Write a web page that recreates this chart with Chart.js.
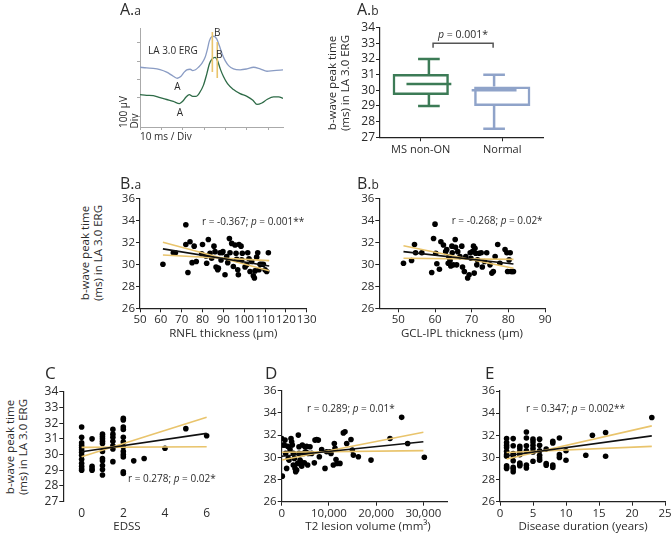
<!DOCTYPE html>
<html><head><meta charset="utf-8">
<script src="https://cdn.jsdelivr.net/npm/chart.js@4.4.1/dist/chart.umd.min.js"></script>
<style>
html,body{margin:0;padding:0;background:#fff;overflow:hidden}
#wrap{position:relative;width:672px;height:534px;overflow:hidden;font-family:"Open Sans",sans-serif;color:#2b2b2b}
#wrap canvas{position:absolute}
.t{position:absolute;white-space:nowrap;line-height:1}
</style></head><body><div id="wrap"></div>
<script>
// ================= DATA =================
// A.a  ERG traces (time in ms, amplitude in µV)
const ergNormalTime = [0,3.1,6.2,9.4,12.5,15.6,17.5,19.1,20.7,21.9,23.5,24.7,26.0,27.4,29.0,30.5,31.6,32.5,33.7,34.7,36.0,37.2,38.5,39.9,41.5,43.8,46.9,50.1,53.2,56.3,59.5,62.6,67.3];
const ergNormalAmp  = [266,262,260,253,239,217,206,215,239,252,255,248,252,266,287,320,365,410,433,435,419,383,338,302,275,257,252,257,266,257,244,248,252];
const ergMsTime = [0,3.1,6.2,9.4,12.5,15.6,18.5,20.0,21.6,23.1,24.7,26.3,27.8,29.7,31.3,32.5,33.8,35.2,36.3,37.6,39.1,41.0,43.8,46.9,50.1,52.9,54.8,57.1,59.5,62.6,64.9,67.3];
const ergMsAmp  = [117,113,111,100,90,80,68,80,104,117,107,107,125,167,230,284,311,320,302,257,215,176,144,122,107,86,63,71,90,104,104,95];
const ergPeakTime   = [33.9, 36.2];
const ergPeakTop    = [458, 403];
const ergPeakBottom = [240, 207];

// A.b  box plot
const boxGroups = ['MS non-ON', 'Normal'];
const boxMin    = [29.0, 27.55];
const boxQ1     = [29.7, 29.0];
const boxMedian = [30.4, 30.0];
const boxQ3     = [31.05, 30.25];
const boxMax    = [32.0, 31.0];
const boxTicks  = [27,28,29,30,31,32,33,34];
const sigLevel  = [32.72, 33.0];

// B.a  RNFL thickness vs b-wave peak time
const baRnfl = [61,72,66,67,72,74,76,73,75,77,80,79.6,81.7,82,82.8,83.6,84.4,85.5,86,86.5,87.3,87.6,88.4,88.9,89.5,89.8,90.8,91.6,92.1,92.9,93.2,94,94.8,95.6,96.1,96.4,96.9,97.2,97.5,98.5,98.8,99.1,100.4,101.2,101.7,102.3,102.8,103.6,104.4,104.9,105.2,106,106.5,107.1,107.6,108.4,109.2,110,110.8,111.6];
const baTime = [30.0,33.6,31.05,31.05,31.8,32.05,31.65,29.25,30.15,30.25,31.8,30.95,30.75,30.1,32.25,31.0,30.55,31.65,31.15,29.75,29.5,29.65,31.05,30.4,31.05,31.15,29.05,30.7,30.15,32.35,31.05,31.9,29.8,31.75,31.0,30.45,29.5,29.05,31.8,31.65,30.4,31.0,29.75,29.95,31.05,30.5,29.35,30.25,28.95,28.75,29.4,30.65,31.05,29.5,30.0,30.0,30.0,29.5,29.35,31.05];
const baLineX = [61, 112];
const baFit   = [31.4, 29.85];
const baCiA   = [32.0, 29.42];
const baCiB   = [30.85, 30.33];
const baXTicks = [50,60,70,80,90,100,110,120,130];

// B.b  GCL-IPL thickness
const bbGcl = [51.4,53.6,54.4,54.7,56.4,59.1,59.6,60.0,60.2,60.5,61.2,61.6,62.3,62.9,63.2,63.6,63.8,64.1,64.3,64.6,64.7,65.0,65.5,65.6,65.9,66.2,66.8,67.3,67.5,68.0,68.4,68.9,69.3,69.6,69.8,70.2,70.5,70.7,70.9,71.1,71.4,71.6,72.0,72.6,72.9,73.5,74.1,75.0,75.5,75.9,76.4,77.1,77.7,79.1,79.6,79.8,80.2,80.5,80.7,81.1,81.4];
const bbTime = [30.1,30.35,31.8,31.05,31.05,29.25,32.35,33.65,31.0,30.05,29.55,32.05,31.75,31.15,31.35,30.1,30.65,30.35,29.85,31.65,31.05,29.95,32.25,31.55,29.95,31.15,30.7,31.65,29.75,29.35,30.7,28.75,29.05,31.05,30.55,31.15,31.65,29.2,31.45,31.0,29.95,30.4,31.0,31.05,29.75,30.25,31.05,29.95,29.2,29.35,30.7,31.8,30.1,31.35,31.05,29.35,30.4,31.05,29.35,29.35,29.35];
const bbLineX = [51.4, 81.4];
const bbFit   = [31.15, 30.03];
const bbCiA   = [31.69, 29.64];
const bbCiB   = [30.55, 30.45];
const bbXTicks = [50,60,70,80,90];

// C  EDSS
const cEdss = [0,0,0,0,0,0,0,0,0,0,0,0,0, 0.5,0.5,0.5,0.5, 1,1,1,1,1,1,1,1,1,1,1, 1.5,1.5,1.5,1.5,1.5,1.5,1.5, 2,2,2,2,2,2,2,2,2,2,2,2, 2.5,3,4,5,6];
const cTime = [31.75,31.1,30.75,30.6,30.45,30.3,30.15,29.95,29.7,29.45,29.25,29.1,29.0, 31.0,29.25,29.1,29.0, 31.3,31.15,31.0,30.85,30.7,30.2,29.75,29.6,29.3,29.05,28.7, 31.6,31.3,31.1,30.85,30.55,30.35,29.55, 32.3,32.2,31.75,31.6,31.1,30.8,30.5,30.2,30.0,29.85,28.9,28.8, 29.6,29.75,30.4,31.65,31.2];
const cLineX = [0, 6];
const cFit   = [30.18, 31.35];
const cCiA   = [29.86, 32.37];
const cCiB   = [30.46, 30.5];
const cXTicks = [0,2,4,6];
const cYTicks = [27,28,29,30,31,32,33,34];

// D  T2 lesion volume
const dVol  = [0,130,350,560,700,840,1050,1260,1400,1550,1760,1970,2110,2250,2460,2460,2680,2820,2960,3170,3380,3520,3660,3660,3870,4090,4230,4370,4580,4790,4930,5070,5290,5500,5640,5990,6340,6910,7050,7400,7760,7970,8460,9170,9520,10230,10440,10930,11140,11290,11500,11710,12340,13050,13400,13760,14670,14960,15170,16230,18910,22930,25400,26670,30200];
const dTime = [31.7,28.3,31.1,31.1,31.55,30.35,29.0,31.0,29.9,29.75,30.7,31.7,31.4,31.1,30.35,29.3,29.9,29.0,28.7,28.85,29.45,32.0,30.95,30.35,29.75,29.6,29.2,31.1,30.35,29.5,30.95,30.5,31.0,29.3,30.35,30.95,30.35,29.5,31.55,31.6,31.55,30.05,30.7,29.0,30.5,30.5,30.35,29.3,31.25,30.8,29.8,29.45,29.45,32.2,32.3,31.25,31.6,30.65,30.2,30.05,29.75,31.7,33.6,31.25,30.0];
const dLineX = [0, 30000];
const dFit   = [30.1, 31.4];
const dCiA   = [29.75, 32.25];
const dCiB   = [30.45, 30.6];
const dXTicks = [0,10000,20000,30000];

// E  Disease duration
const eYears = [1,1,1,1,1,1,1,1,1,1, 2,2,2,2,2,2,2,2, 3,3,3,3,3,3,3, 4,4,4,4,4,4, 5,5,5,5,5,5, 6,6,6,6,6,6, 7,7,7, 8,8,8,8, 9,9,9, 10,10, 13,14,16,16,23];
const eTime  = [31.7,31.35,31.1,30.9,30.55,30.25,30.1,29.25,29.1,29.0, 31.7,31.05,30.35,30.15,29.7,29.1,28.95,28.7, 31.0,30.8,30.5,30.25,29.5,29.35,29.25, 32.3,31.75,31.05,30.6,29.3,29.05, 31.65,31.4,31.1,30.8,30.5,29.65, 31.65,31.1,30.6,30.2,29.95,29.75, 30.75,29.45,29.3, 31.45,31.3,29.3,29.1, 31.75,30.25,30.0, 30.6,29.75, 30.2,32.0,32.25,30.1,33.6];
const eLineX = [1, 23];
const eFit   = [30.15, 31.95];
const eCiA   = [29.85, 32.85];
const eCiB   = [30.45, 31.0];
const eXTicks = [0,5,10,15,20,25];

const timeTicks = [26,28,30,32,34,36];

// ================= DRAWING =================
const wrap = document.getElementById('wrap');
const AX = '#222';
const GOLD = '#e9c46c';
Chart.defaults.font.family = '"Open Sans", sans-serif';
Chart.defaults.color = '#2b2b2b';

function pts(xs, ys) { return xs.map((x, i) => ({x: x, y: ys[i]})); }

function linAxis(min, max, ticks, o) {
  o = o || {};
  return {
    type: 'linear', min: min, max: max,
    afterBuildTicks: s => { s.ticks = ticks.map(v => ({value: v})); },
    grid: {display: o.grid !== false, drawOnChartArea: false, drawTicks: true, tickLength: o.tl || 4, color: o.color || AX, lineWidth: 1},
    border: {display: o.border !== false, color: o.color || AX, width: o.bw || 1.2},
    ticks: {display: o.labels !== false, font: {size: o.size || 11.5}, color: '#2b2b2b', padding: o.pad == null ? 1 : o.pad,
            maxRotation: 0, autoSkip: false, callback: o.fmt || (v => v)}
  };
}

function mk(rect, area, cfg) {
  const c = document.createElement('canvas');
  c.width = rect[2]; c.height = rect[3];
  c.style.left = rect[0] + 'px'; c.style.top = rect[1] + 'px';
  c.style.width = rect[2] + 'px'; c.style.height = rect[3] + 'px';
  wrap.appendChild(c);
  const yW = area[0] - rect[0], padTop = area[1] - rect[1];
  const padRight = rect[0] + rect[2] - area[2], xH = rect[1] + rect[3] - area[3];
  const o = cfg.options;
  o.responsive = false; o.animation = false; o.devicePixelRatio = 1;
  o.layout = {padding: {left: 0, top: padTop, right: padRight, bottom: 0}};
  o.plugins = {legend: {display: false}, tooltip: {enabled: false}};
  o.scales.x.afterFit = s => { s.height = xH; };
  o.scales.y.afterFit = s => { s.width = yW; };
  return new Chart(c, cfg);
}

function txt(html, x, y, o) {
  o = o || {};
  const d = document.createElement('div');
  d.className = 't';
  d.innerHTML = html;
  d.style.fontSize = (o.size || 11.5) + 'px';
  d.style.left = x + 'px'; d.style.top = y + 'px';
  if (o.lh) { d.style.lineHeight = o.lh + 'px'; d.style.textAlign = 'center'; }
  const a = o.anchor || 'c';
  let tr = a === 'c' ? 'translate(-50%,-50%)' : a === 'l' ? 'translate(0,-50%)' : 'translate(-100%,-50%)';
  if (o.rot) tr += ' rotate(' + o.rot + 'deg)';
  d.style.transform = tr;
  wrap.appendChild(d);
}

// ---- A.a ERG ----
mk([124, 18, 172, 117], [140, 28, 283, 127], {
  type: 'scatter',
  data: {datasets: [
    ...ergPeakTime.map((t, i) => ({data: [{x: t, y: ergPeakTop[i]}, {x: t, y: ergPeakBottom[i]}], showLine: true, borderColor: GOLD, borderWidth: 1.6, pointRadius: 0})),
    {data: pts(ergNormalTime, ergNormalAmp), showLine: true, borderColor: '#8a9cc4', borderWidth: 1.3, pointRadius: 0, cubicInterpolationMode: 'monotone'},
    {data: pts(ergMsTime, ergMsAmp), showLine: true, borderColor: '#2e6b47', borderWidth: 1.3, pointRadius: 0, cubicInterpolationMode: 'monotone'}
  ]},
  options: {scales: {
    x: linAxis(0, 67, [0,10,20,30,40,50,60], {labels: false, color: '#aaa', tl: 3, bw: 1}),
    y: linAxis(-60, 480, [0,100,200,300,400], {labels: false, color: '#aaa', tl: 3, bw: 1})
  }}
});

// ---- A.b box plot ----
const boxColors = ['#3c7b56', '#8fa3c9'];
const seg = (x1, y1, x2, y2, col, w) => ({type: 'line', xAxisID: 'x2', data: [{x: x1, y: y1}, {x: x2, y: y2}], borderColor: col, borderWidth: w, pointRadius: 0, fill: false});
const boxSets = [];
boxGroups.forEach((g, i) => {
  const c = boxColors[i], cap = 0.166, hw = 0.344;
  boxSets.push(seg(i, boxQ3[i], i, boxMax[i], c, 2.5));
  boxSets.push(seg(i - cap, boxMax[i], i + cap, boxMax[i], c, 2.5));
  boxSets.push(seg(i, boxQ1[i], i, boxMin[i], c, 2.5));
  boxSets.push(seg(i - cap, boxMin[i], i + cap, boxMin[i], c, 2.5));
  boxSets.push(seg(i - hw, boxMedian[i], i + hw, boxMedian[i], c, 2.5));
});
boxSets.push({type: 'line', xAxisID: 'x2', data: [{x: 0.064, y: sigLevel[0]}, {x: 0.064, y: sigLevel[1]}, {x: 0.985, y: sigLevel[1]}, {x: 0.985, y: sigLevel[0]}], borderColor: '#555', borderWidth: 1.5, pointRadius: 0, fill: false});
boxSets.push({type: 'bar', xAxisID: 'x', grouped: false, data: boxGroups.map((g, i) => [boxQ1[i], boxQ3[i]]), backgroundColor: 'rgba(0,0,0,0)', borderColor: boxColors, borderWidth: 2.5, borderSkipped: false, barPercentage: 0.69, categoryPercentage: 1});
mk([352, 14, 205, 150], [380, 27.7, 543, 137.3], {
  type: 'bar',
  data: {labels: boxGroups, datasets: boxSets},
  options: {scales: {
    x: {type: 'category', offset: true, grid: {display: true, offset: false, drawOnChartArea: false, drawTicks: true, tickLength: 4, color: AX}, border: {display: true, color: AX, width: 1.2}, ticks: {font: {size: 11}, color: '#2b2b2b', padding: 2}},
    x2: {type: 'linear', min: -0.5, max: 1.5, display: false},
    y: linAxis(27, 34, boxTicks, {size: 12})
  }}
});

// ---- scatter panels ----
function scatterPanel(rect, area, p) {
  const line = (ys, col) => ({data: pts(p.lx, ys), showLine: true, borderColor: col, borderWidth: 1.6, pointRadius: 0});
  return mk(rect, area, {
    type: 'scatter',
    data: {datasets: [
      line(p.fit, '#111'),
      line(p.ciA, GOLD),
      line(p.ciB, GOLD),
      {data: pts(p.x, p.y), pointRadius: 2.8, pointBackgroundColor: '#000', pointBorderWidth: 0, borderColor: '#000'}
    ]},
    options: {scales: {
      x: linAxis(p.xr[0], p.xr[1], p.xt, p.xo),
      y: linAxis(p.yr[0], p.yr[1], p.yt, p.yo)
    }}
  });
}

scatterPanel([112, 188, 215, 140], [140, 198.3, 306.7, 308.3],
  {x: baRnfl, y: baTime, lx: baLineX, fit: baFit, ciA: baCiA, ciB: baCiB, xr: [50, 130], xt: baXTicks, yr: [26, 36], yt: timeTicks});
scatterPanel([352, 188, 213, 140], [379.3, 198.3, 545, 308.3],
  {x: bbGcl, y: bbTime, lx: bbLineX, fit: bbFit, ciA: bbCiA, ciB: bbCiB, xr: [44.8, 90], xt: bbXTicks, yr: [26, 36], yt: timeTicks});
scatterPanel([36, 380, 212, 140], [63.3, 391.7, 227.5, 501.7],
  {x: cEdss, y: cTime, lx: cLineX, fit: cFit, ciA: cCiA, ciB: cCiB, xr: [-0.88, 7], xt: cXTicks, xo: {border: false, grid: false, size: 12}, yr: [27, 34], yt: cYTicks, yo: {size: 12}});
scatterPanel([254, 380, 215, 140], [281.7, 390.7, 447, 501.7],
  {x: dVol, y: dTime, lx: dLineX, fit: dFit, ciA: dCiA, ciB: dCiB, xr: [0, 35000], xt: dXTicks, xo: {fmt: v => v.toLocaleString('en-US')}, yr: [26, 36], yt: timeTicks});
scatterPanel([473, 380, 215, 140], [500, 391, 665, 501.7],
  {x: eYears, y: eTime, lx: eLineX, fit: eFit, ciA: eCiA, ciB: eCiB, xr: [0, 25], xt: eXTicks, yr: [26, 36], yt: timeTicks});

// ---- texts ----
const yTitle = 'b-wave peak time<br>(ms) in LA 3.0 ERG';
// panel labels
txt('A.<span style="font-size:12px">a</span>', 120, 9, {anchor: 'l', size: 16});
txt('A.<span style="font-size:12px">b</span>', 357, 9, {anchor: 'l', size: 16});
txt('B.<span style="font-size:12px">a</span>', 120, 183, {anchor: 'l', size: 16});
txt('B.<span style="font-size:12px">b</span>', 357, 183, {anchor: 'l', size: 16});
txt('C', 45, 372, {anchor: 'l', size: 17});
txt('D', 265, 372, {anchor: 'l', size: 17});
txt('E', 485, 372, {anchor: 'l', size: 17});
// A.a texts
txt('LA 3.0 ERG', 148, 50, {anchor: 'l', size: 10});
txt('A', 177.3, 86, {size: 10});
txt('A', 180, 111.7, {size: 10});
txt('B', 217.3, 32.3, {size: 10});
txt('B', 219.3, 54, {size: 10});
txt('10 ms / Div', 140, 136, {anchor: 'l', size: 10});
txt('100 µV', 123, 112, {size: 10, rot: -90});
txt('Div', 133.5, 121, {size: 10, rot: -90});
// A.b
txt(yTitle, 337.5, 82.5, {size: 11.5, lh: 12.5, rot: -90});
txt('<i>p</i> = 0.001*', 463, 34, {size: 10.5});
// B.a
txt(yTitle, 91, 253.3, {size: 11.5, lh: 12.5, rot: -90});
txt('RNFL thickness (µm)', 223.3, 333, {size: 11.5});
txt('r = -0.367; <i>p</i> = 0.001**', 202, 221, {anchor: 'l', size: 10});
// B.b
txt('GCL-IPL thickness (µm)', 462, 333, {size: 11.5});
txt('r = -0.268; <i>p</i> = 0.02*', 451.7, 220, {anchor: 'l', size: 10});
// C
txt(yTitle, 16, 446.7, {size: 11.5, lh: 12.5, rot: -90});
txt('EDSS', 127, 525.7, {size: 11.5});
txt('r = 0.278; <i>p</i> = 0.02*', 128, 478, {anchor: 'l', size: 10});
// D
txt('T2 lesion volume (mm³)', 368, 525.7, {size: 11.5});
txt('r = 0.289; <i>p</i> = 0.01*', 307, 407.7, {anchor: 'l', size: 10});
// E
txt('Disease duration (years)', 583, 525.7, {size: 11.5});
txt('r = 0.347; <i>p</i> = 0.002**', 526, 407.7, {anchor: 'l', size: 10});
</script></body></html>
